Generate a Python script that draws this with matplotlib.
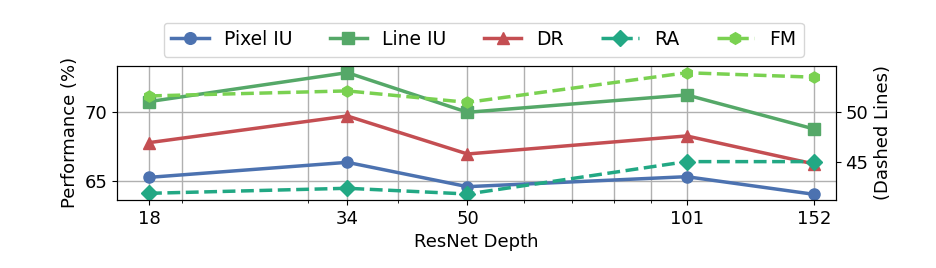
import matplotlib
matplotlib.use('Agg')
import matplotlib.pyplot as plt
from matplotlib.ticker import NullFormatter

depths = [18, 34, 50, 101, 152]
pixel_iu = [65.24, 66.34, 64.56, 65.29, 64.0]
line_iu = [70.78, 72.9, 70.0, 71.27, 68.78]
dr = [67.78, 69.73, 66.95, 68.27, 66.22]
# right axis (dashed)
ra = [41.79, 42.3, 41.72, 45.0, 45.0]
fm = [51.65, 52.16, 51.0, 54.0, 53.55]

plt.rcParams['font.size'] = 13

fig = plt.figure(figsize=(9.37, 2.68), dpi=100)
ax = fig.add_axes([0.125, 0.254, 0.767, 0.5])
ax2 = ax.twinx()

lw = 2.5
ms = 8
h1, = ax.plot(depths, pixel_iu, '-o', color='#4C72B0', lw=lw, ms=ms, label='Pixel IU')
h2, = ax.plot(depths, line_iu, '-s', color='#55A868', lw=lw, ms=ms, label='Line IU')
h3, = ax.plot(depths, dr, '-^', color='#C44E52', lw=lw, ms=ms, label='DR')
h4, = ax2.plot(depths, ra, '--D', color='#22a884', lw=lw, ms=ms, label='RA')
h5, = ax2.plot(depths, fm, '--h', color='#7ad151', lw=lw, ms=ms, label='FM')

ax.set_xscale('log')
ax.set_xticks(depths)
ax.set_xticklabels([str(d) for d in depths])
ax.xaxis.set_minor_formatter(NullFormatter())
ax.set_xlim(16.25, 163)
ax.set_ylim(63.59, 73.39)
ax.set_yticks([65, 70])
ax2.set_ylim(41.12, 54.69)
ax2.set_yticks([45, 50])

ax.grid(True, which='both', axis='x', color='#b0b0b0', lw=1)
ax.grid(True, which='major', axis='y', color='#b0b0b0', lw=1)
ax.set_axisbelow(True)

ax.set_xlabel('ResNet Depth')
ax.set_ylabel('Performance (%)')
ax2.set_ylabel('(Dashed Lines)')

ax.legend(handles=[h1, h2, h3, h4, h5], loc='lower center',
          bbox_to_anchor=(0.51, 1.0), ncol=5, frameon=True,
          fontsize=13.5, markerscale=1.05)

fig.savefig('out.png', dpi=100)
